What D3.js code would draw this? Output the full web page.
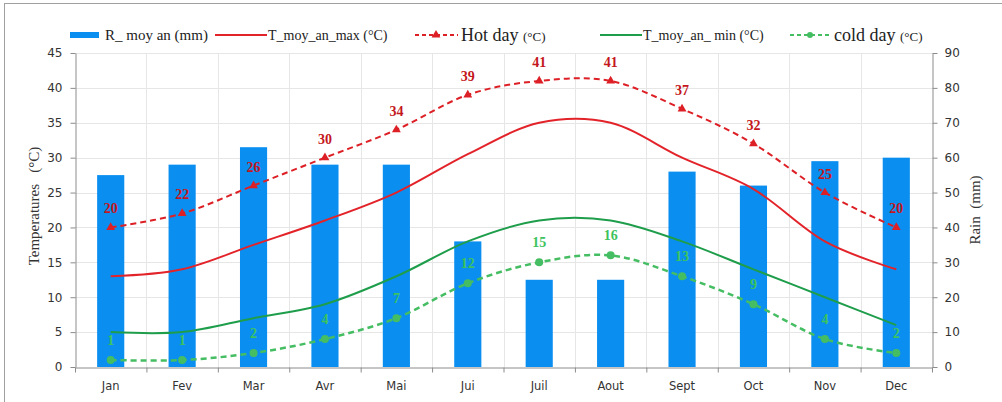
<!DOCTYPE html>
<html><head><meta charset="utf-8">
<script src="https://cdn.jsdelivr.net/npm/d3@7"></script>
<style>
html,body{margin:0;padding:0;background:#fff;}
svg{display:block;}
</style></head>
<body>
<script>
const months = ["Jan","Fev","Mar","Avr","Mai","Jui","Juil","Aout","Sept","Oct","Nov","Dec"];
const rain = [55,58,63,58,58,36,25,25,56,52,59,60];
const tMax = [13,14,17.5,21,25,30.5,35,35,30,25.5,18,14];
const tMin = [5,5,7,9,13,18,21,21,18,14,10,6];
const hotDay = [20,22,26,30,34,39,41,41,37,32,25,20];
const coldDay = [1,1,2,4,7,12,15,16,13,9,4,2];
const tempTicks = [0,5,10,15,20,25,30,35,40,45];
const rainTicks = [0,10,20,30,40,50,60,70,80,90];

const W = 1002, H = 402;
const L = 75, R = 932, T = 53, B = 367;
const svg = d3.select("body").append("svg").attr("width", W).attr("height", H);

// frame
svg.append("rect").attr("x",4.5).attr("y",3.5).attr("width",W+10).attr("height",H+10)
  .attr("fill","none").attr("stroke","#a0a0a0").attr("stroke-width",1);

const x = d3.scaleBand().domain(months).range([L,R]).paddingInner(0.62).paddingOuter(0.31);
const cx = m => x(m) + x.bandwidth()/2;
const xb = d3.scaleLinear().domain([0,12]).range([L,R]);
const yT = d3.scaleLinear().domain([0,45]).range([B,T]);
const yR = d3.scaleLinear().domain([0,90]).range([B,T]);

// gridlines
const g = svg.append("g");
g.selectAll("line.h").data(tempTicks.slice(1)).join("line")
  .attr("x1",L).attr("x2",R).attr("y1",d=>Math.round(yT(d))+0.5).attr("y2",d=>Math.round(yT(d))+0.5)
  .attr("stroke","#e6e6e6");
g.selectAll("line.v").data(d3.range(1,12)).join("line")
  .attr("y1",T).attr("y2",B).attr("x1",d=>Math.round(xb(d))+0.5).attr("x2",d=>Math.round(xb(d))+0.5)
  .attr("stroke","#e6e6e6");

// bars
svg.append("g").selectAll("rect").data(months).join("rect")
  .attr("x", m => x(m)).attr("width", x.bandwidth())
  .attr("y", (m,i) => yR(rain[i])).attr("height", (m,i) => B - yR(rain[i]))
  .attr("fill","#0a8ff0");

// axes
const axColor = "#8c8c8c";
const tickFont = "Verdana, 'DejaVu Sans', sans-serif";
const axL = svg.append("g").attr("transform",`translate(${L+0.5},0)`)
  .call(d3.axisLeft(yT).tickValues(tempTicks).tickSize(5).tickSizeOuter(0).tickPadding(8));
const axR = svg.append("g").attr("transform",`translate(${R+0.5},0)`)
  .call(d3.axisRight(yR).tickValues(rainTicks).tickSize(5).tickSizeOuter(0).tickPadding(7));
const axB = svg.append("g").attr("transform",`translate(0,${B+0.5})`)
  .call(d3.axisBottom(xb).tickValues(d3.range(0,13)).tickSize(5).tickSizeOuter(0).tickFormat(""));
[axL,axR,axB].forEach(a=>{
  a.selectAll("path,line").attr("stroke",axColor);
  a.selectAll("text").attr("font-family",tickFont).attr("font-size",12).attr("fill","#333");
});
svg.append("g").selectAll("text").data(months).join("text")
  .attr("x", m=>cx(m)).attr("y", 390).attr("text-anchor","middle")
  .attr("font-family",tickFont).attr("font-size",11.5).attr("fill","#333").text(m=>m);

// axis titles
svg.append("text").attr("transform","translate(39,206) rotate(-90)").attr("text-anchor","middle")
  .attr("font-family","'Liberation Serif', 'Times New Roman', serif").attr("font-size",15).attr("fill","#333")
  .attr("xml:space","preserve").text("Temperatures   (°C)");
svg.append("text").attr("transform","translate(980,210) rotate(-90)").attr("text-anchor","middle")
  .attr("font-family","'Liberation Serif', 'Times New Roman', serif").attr("font-size",15).attr("fill","#333")
  .attr("xml:space","preserve").text("Rain  (mm)");

// lines
const curve = d3.curveCardinal.tension(0);
const lineT = d3.line().x((d,i)=>cx(months[i])).y(d=>yT(d)).curve(curve);
const redMax = "#e3232a", redHot = "#dd1f26", greenMin = "#1e9d4b", greenCold = "#45bd62";
svg.append("path").datum(tMax).attr("d",lineT).attr("fill","none").attr("stroke",redMax).attr("stroke-width",2);
svg.append("path").datum(tMin).attr("d",lineT).attr("fill","none").attr("stroke",greenMin).attr("stroke-width",2);
svg.append("path").datum(hotDay).attr("d",lineT).attr("fill","none").attr("stroke",redHot).attr("stroke-width",2).attr("stroke-dasharray","6,4");
svg.append("path").datum(coldDay).attr("d",lineT).attr("fill","none").attr("stroke",greenCold).attr("stroke-width",2.5).attr("stroke-dasharray","6,4");

// markers
const tri = d3.symbol().type(d3.symbolTriangle).size(34);
svg.append("g").selectAll("path").data(hotDay).join("path")
  .attr("d",tri).attr("transform",(d,i)=>`translate(${cx(months[i])},${yT(d)})`).attr("fill",redHot);
svg.append("g").selectAll("circle").data(coldDay).join("circle")
  .attr("cx",(d,i)=>cx(months[i])).attr("cy",d=>yT(d)).attr("r",4).attr("fill",greenCold);

// data labels
const serif = "'Liberation Serif', 'Times New Roman', serif";
svg.append("g").selectAll("text").data(hotDay).join("text")
  .attr("x",(d,i)=>cx(months[i])).attr("y",d=>yT(d)-14).attr("text-anchor","middle")
  .attr("font-family",serif).attr("font-weight","bold").attr("font-size",14).attr("fill","#c4161c").text(d=>d);
svg.append("g").selectAll("text").data(coldDay).join("text")
  .attr("x",(d,i)=>cx(months[i])).attr("y",d=>yT(d)-15).attr("text-anchor","middle")
  .attr("font-family",serif).attr("font-weight","bold").attr("font-size",14).attr("fill","#3dc35e").text(d=>d);

// legend
const lg = svg.append("g").attr("font-family",serif).attr("fill","#222");
const ly = 35;
lg.append("rect").attr("x",70).attr("y",ly-3).attr("width",29).attr("height",6).attr("fill","#0a8ff0");
lg.append("text").attr("x",105).attr("y",ly+5).attr("font-size",15).attr("xml:space","preserve").text("R_ moy an (mm)");
lg.append("line").attr("x1",215).attr("x2",267).attr("y1",ly).attr("y2",ly).attr("stroke",redMax).attr("stroke-width",2);
lg.append("text").attr("x",268).attr("y",ly+5).attr("font-size",14).text("T_moy_an_max (°C)");
lg.append("line").attr("x1",415).attr("x2",458).attr("y1",ly).attr("y2",ly).attr("stroke",redHot).attr("stroke-width",2).attr("stroke-dasharray","4,3");
lg.append("path").attr("d",tri).attr("transform",`translate(436,${ly})`).attr("fill",redHot);
const th = lg.append("text").attr("x",461).attr("y",ly+6);
th.append("tspan").attr("font-size",18).text("Hot day ");
th.append("tspan").attr("font-size",13).text("(°C)");
lg.append("line").attr("x1",600).attr("x2",642).attr("y1",ly).attr("y2",ly).attr("stroke",greenMin).attr("stroke-width",2);
lg.append("text").attr("x",643).attr("y",ly+5).attr("font-size",14).text("T_moy_an_ min (°C)");
lg.append("line").attr("x1",790).attr("x2",830).attr("y1",ly).attr("y2",ly).attr("stroke",greenCold).attr("stroke-width",2).attr("stroke-dasharray","4,3");
lg.append("circle").attr("cx",810).attr("cy",ly).attr("r",3).attr("fill",greenCold);
const tc = lg.append("text").attr("x",834).attr("y",ly+6);
tc.append("tspan").attr("font-size",18).text("cold day ");
tc.append("tspan").attr("font-size",13).text("(°C)");
</script>
</body></html>
